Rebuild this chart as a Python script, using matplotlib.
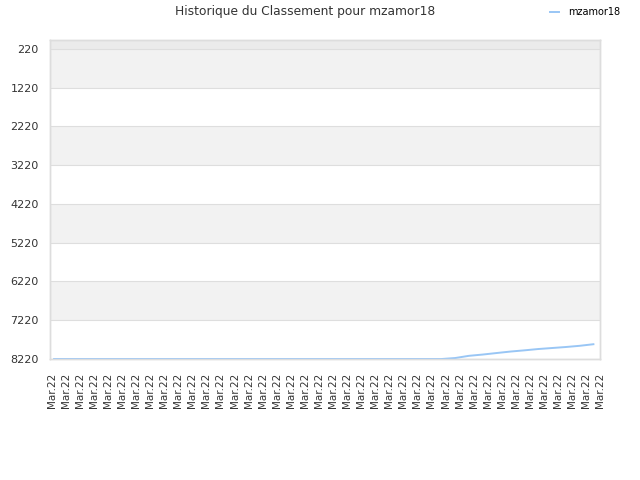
import numpy as np
import matplotlib.pyplot as plt

# classement par date (toutes les dates affichées "Mar.22")
dates = ["Mar.22"] * 40
rank = [8220] * 29 + [8194, 8137, 8104, 8065, 8027, 7996, 7962, 7936, 7910, 7879, 7838]
yticks = [220, 1220, 2220, 3220, 4220, 5220, 6220, 7220, 8220]
player = "mzamor18"

fig = plt.figure(figsize=(6.4, 4.8), dpi=100)
ax = fig.add_axes([0.078, 0.252, 0.86, 0.665])

x = np.arange(len(dates))
ax.set_xlim(-0.3, len(dates) - 1 + 0.5)
ax.set_ylim(8220, -10)

# bandes alternées
ax.axhspan(-10, yticks[0], color="#ebebeb", zorder=0, lw=0)
for i in range(len(yticks) - 1):
    if i % 2 == 0:
        ax.axhspan(yticks[i], yticks[i + 1], color="#f2f2f2", zorder=0, lw=0)
for t in yticks:
    ax.axhline(t, color="#dedede", lw=0.8, zorder=1)

ax.plot(x, rank, color="#99c6f5", lw=1.4, zorder=3, label=player)

ax.set_yticks(yticks)
ax.set_yticklabels([str(t) for t in yticks], fontsize=8, color="#333333")
ax.tick_params(length=0, pad=8)
ax.set_xticks([])

# étiquettes de dates, réparties sur toute la largeur
ax2 = ax.twiny()
ax2.set_xlim(-0.12, len(dates) - 1)
ax2.xaxis.set_ticks_position("bottom")
ax2.set_xticks(x)
ax2.set_xticklabels(dates, rotation=90, fontsize=7.5, color="#333333")
ax2.tick_params(length=0, pad=10)

for a in (ax, ax2):
    for s in a.spines.values():
        s.set_color("#dddddd")
        s.set_linewidth(1)

fig.text(0.477, 0.975, "Historique du Classement pour " + player, ha="center", va="center",
         fontsize=8.8, color="#333333")
fig.legend(loc="center left", bbox_to_anchor=(0.845, 0.975), frameon=False, fontsize=7,
           handlelength=1.0, handletextpad=0.9)

fig.savefig("out.png", dpi=100)
